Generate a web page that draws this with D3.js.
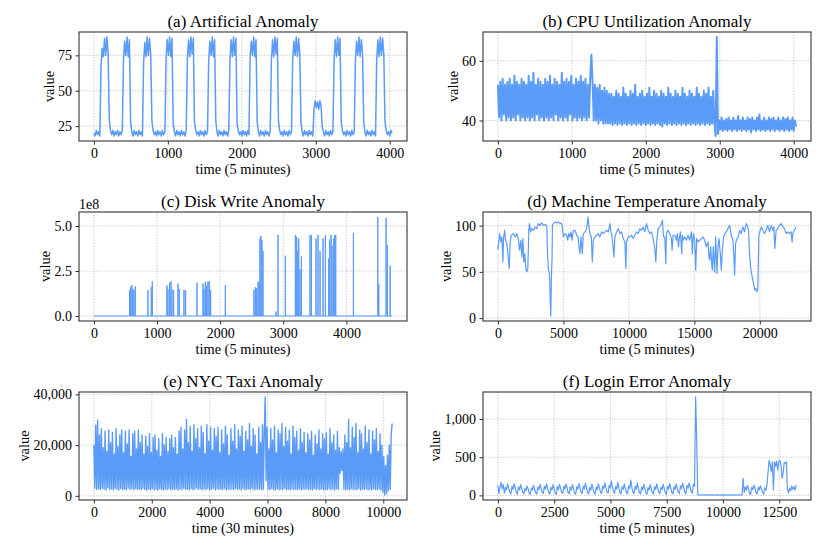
<!DOCTYPE html>
<html><head><meta charset="utf-8">
<script src="https://cdn.jsdelivr.net/npm/d3@7"></script>
<style>
body{margin:0;background:#fff}
text{font-family:"Liberation Serif","Times New Roman",serif;fill:#000}
</style>
</head><body>
<svg id="chart" width="830" height="554"></svg>
<script>
// ---------------- data ----------------
// (a) Artificial Anomaly, sampled every 16 steps
const artificialStep = 16;
const artificialValues = [20,18,22,19,21,18,
68,80,74,87,75,88,77,30,
22,19,22,18,21,19,22,18,21,19,22,
72,85,75,88,74,86,28,
21,18,22,19,21,18,22,19,21,18,
70,84,74,88,75,87,76,29,
22,19,21,18,22,19,21,18,22,19,21,
73,86,75,88,74,87,27,
21,18,22,19,21,18,22,19,21,18,22,
72,86,74,88,76,87,28,
22,19,21,18,22,19,21,18,22,19,21,
71,85,75,88,74,86,29,
21,18,22,19,21,18,22,19,21,18,22,
72,86,74,88,75,87,27,
22,19,21,18,22,19,21,18,22,19,
73,85,75,88,74,86,28,
21,18,22,19,21,18,22,19,21,18,22,
71,86,74,88,76,87,29,
22,19,21,18,22,19,21,18,22,19,21,
72,85,75,88,74,87,76,28,
21,18,22,19,21,18,22,19,21,18,
37,43,38,42,37,43,39,24,
21,18,22,19,21,18,22,19,21,
72,86,74,88,75,87,28,
22,19,21,18,22,19,21,18,22,19,21,
71,85,75,88,74,86,77,29,
21,18,22,19,21,18,22,19,21,18,
72,86,74,88,75,87,76,28,
22,19,21,18,22,20];

// (b) CPU Untilization Anomaly, sampled every 16 steps
const cpuStep = 16;
const cpuValues = [52,41,53,40,54,42,52,40,53,41,
54,40,52,41,55,40,53,42,52,40,
54,41,53,40,52,41,55,40,53,41,
56,40,52,42,54,40,53,41,52,40,
54,41,53,40,55,41,52,40,54,42,
53,40,52,41,56,40,53,41,54,40,
53,42,55,40,52,41,54,40,53,41,
55,40,53,41,54,40,52,41,54,62,
53,
40,52,40,51,39,52,40,50,39,51,39,50,39,49,
39,49,38.5,48,39,50,38.5,49,39,48,
38.5,51,39,49,38.5,48,39,50,38.5,49,
39,52,38.5,48,39,49,38.5,50,39,48,
38.5,49,39,51,38.5,48,39,50,38.5,49,
39,48,38.5,50,38,49,39,48,38.5,51,
39,49,38.5,48,39,50,38.5,49,39,48,
38.5,51,39,49,38.5,48,39,50,38.5,49,
39,48,38.5,51,39,49,38.5,48,39,50,
38.5,49,39,51,38.5,48,39,50,39,
34.8,68,
35.5,40,37,41,36.5,40,37,40.5,36.5,41,
37,40,36.5,41,37,40,36.5,41.5,37,40,
36.5,41,37,40,36.5,41,37,40.5,36,41,
37,40,36.5,41,37,42,36.5,40,37,41,
36.5,40,37,41,36.5,40.5,37,41,36.5,40,
37,41,36.5,40,37,41,36.5,40.5,37,41,
36.5,40,37,41,36.5,40,38];

// (c) Disk Write Anomaly: baseline 0 with write bursts
const diskEnd = 4724;
const diskSpikeTimes = [444,565,581,602,618,634,655,856,909,925,1157,1173,1199,1221,1236,1263,1332,1353,1427,1453,1633,
1728,1744,1765,1786,1807,1828,1849,2082,2462,2536,2557,2579,2600,2616,2631,2647,2663,2679,2885,2917,3033,
3192,3213,3229,3245,3266,3287,3424,3445,3519,3551,3583,3630,3667,3720,3736,3757,3773,3799,3815,3831,
4111,4380,4497,4513,4629,4650,4693];
const diskSpikeValues = [0.02e8,1.44e8,1.60e8,1.72e8,1.50e8,1.44e8,1.65e8,1.44e8,1.60e8,1.92e8,1.70e8,1.50e8,1.85e8,1.92e8,1.50e8,1.44e8,1.80e8,1.50e8,1.44e8,1.44e8,1.85e8,
1.80e8,1.50e8,1.90e8,1.70e8,1.92e8,1.92e8,1.44e8,1.72e8,0.03e8,1.44e8,1.60e8,1.55e8,1.90e8,1.92e8,4.30e8,4.45e8,4.20e8,3.60e8,0.25e8,4.50e8,3.35e8,
4.50e8,4.40e8,3.60e8,4.30e8,2.60e8,3.30e8,4.50e8,4.50e8,4.30e8,4.50e8,3.60e8,4.30e8,4.50e8,3.20e8,4.25e8,4.50e8,3.90e8,4.30e8,4.50e8,4.50e8,
4.60e8,0.03e8,5.50e8,1.80e8,5.45e8,3.95e8,2.80e8];

// (d) Machine Temperature Anomaly
const tempTime = [0,
51,127,228,305,381,431,508,584,685,761,
863,939,1015,1193,1320,1447,1574,1650,1751,1827,
1904,1980,2056,2132,2208,2284,2360,2411,2487,2589,
2716,2843,2969,3096,3223,3350,3477,3629,3731,3782,
3858,3934,3985,4035,4086,4137,4162,4238,4365,4492,
4619,4746,4822,4898,5000,5127,5254,5330,5406,5507,
5584,5660,5761,5888,6015,6117,6193,6269,6345,6447,
6523,6650,6776,6878,6954,7030,7132,7208,7284,7411,
7538,7665,7792,7919,8045,8172,8299,8426,8553,8629,
8705,8781,8858,8934,9061,9188,9314,9441,9568,9695,
9771,9822,9949,10076,10203,10330,10457,10583,10710,10837,
10964,11091,11218,11345,11472,11599,11726,11852,11979,12056,
12132,12233,12360,12487,12563,12640,12741,12817,12868,12995,
13121,13248,13299,13375,13502,13629,13705,13781,13832,13934,
14035,14086,14137,14264,14390,14517,14644,14771,14847,14923,
15025,15101,15177,15279,15406,15533,15659,15786,15913,16040,
16116,16167,16243,16319,16370,16446,16548,16624,16725,16802,
16878,16979,17055,17132,17233,17335,17436,17563,17690,17817,
17944,18020,18071,18147,18248,18350,18451,18578,18705,18832,
18959,19035,19136,19213,19289,19365,19466,19543,19619,19695,
19771,19847,19923,20025,20126,20228,20355,20482,20608,20735,
20862,20989,21065,21141,21243,21370,21497,21624,21751,21878,
22004,22131,22258,22385,22461,22512,22639,22766];
const tempValues = [74,
80.6,91.4,82.4,87.8,60.8,86,95,84.2,80.6,69.8,
53.6,82.4,89.6,91.4,87.8,91.4,84.2,73.4,84.2,66.2,
86,60.8,69.8,53.6,50,53.6,95,102.2,93.2,96.8,
95,98.6,96.8,102.2,100.4,102.9,100.4,101.4,99.3,73.4,
51.8,48.2,26.6,2.2,44.6,66.2,100.4,102.2,104,102.9,
104,102.2,102.9,100.4,87.8,91.4,89.6,84.2,91.4,87.8,
93.2,84.2,95,95,89.6,87.8,77,69.8,87.8,69.8,
91.4,93.2,96.8,109.4,98.6,91.4,87.8,60.8,84.2,87.8,
89.6,91.4,87.8,93.2,91.4,93.2,95,93.2,102.2,93.2,
89.6,78.8,66.2,87.8,93.2,96.8,91.4,93.2,86,82.4,
53.6,82.4,87.8,87.8,89.6,86,89.6,93.2,91.4,96.8,
95,98.6,93.2,102.2,95,91.4,93.2,86,75.2,60.8,
84.2,96.8,98.6,102.2,105.8,87.8,87.8,59,91.4,95,
91.4,86,73.4,89.6,89.6,84.2,91.4,77,84.2,93.2,
69.8,89.6,84.2,87.8,84.2,89.6,84.2,93.2,69.8,91.4,
84.2,51.8,86,82.4,84.2,86,87.8,84.2,77,82.4,
66.2,62.6,77,59,51.8,77,50,87.8,48.2,77,
86,69.8,51.8,73.4,87.8,91.4,93.2,96.8,100.4,89.6,
84.2,66.2,46.4,80.6,86,87.8,95,91.4,98.6,93.2,
102.2,100.4,95,69.8,55.4,48.2,41,35.6,30.2,32,
28.4,32,89.6,95,98.6,95,91.4,95,100.4,93.2,
100.4,95,98.6,75.2,95,96.8,100.4,102.2,98.6,96.8,
91.4,93.2,91.4,93.2,82.4,91.4,95,98.6];

// (e) NYC Taxi Anomaly, sampled every 32 steps
const taxiStep = 32;
const taxiValues = [20000,3000,27800,2500,29800,2800,24000,2400,26500,3000,19000,2600,25500,2300,17500,3200,26000,2500,21000,2800,
25000,2400,16500,3000,26500,2600,19500,2300,24000,2900,26000,2500,17000,2700,25500,2400,20500,3100,26000,2500,
15500,2800,24500,2300,25500,2900,18500,2500,26000,2700,21000,2400,24000,3000,16500,2500,23500,2200,19500,2800,
24500,2400,17000,2900,23000,2300,24000,2600,18000,2200,22500,2800,15500,2500,24500,2300,20000,2700,23000,2400,
17500,2900,22500,2300,24000,2600,19000,2500,23000,2800,16500,2200,25500,2700,27000,2400,18500,3000,26000,2500,
30100,2700,21000,2300,27500,2900,17500,2400,28000,2600,22500,3100,26500,2500,19000,2800,27500,2300,25000,2700,
16500,2500,28000,2900,21500,2400,27000,2600,18000,3000,26500,2300,23500,2800,27000,2500,17000,2700,26000,2400,
20500,2900,27500,2300,24000,2600,16000,2500,26500,2800,21500,2400,28000,3000,18500,2500,26000,2700,23500,2300,
27500,2900,17500,2400,25500,2600,22000,2800,28500,2500,19500,3000,26500,2300,24000,2700,16500,2500,27000,2800,
21000,2400,28000,2600,26000,39000,6000,27000,2700,18500,2400,26500,2900,22000,2500,27500,2300,17000,2800,26000,
2400,24500,2600,28500,2500,19500,3000,27000,2400,21500,2700,26000,2300,16500,2800,27500,2500,23000,2600,25500,
2400,18000,2900,26500,2300,21000,2700,25000,2500,17000,2800,24500,2400,22000,2600,25500,2300,16000,2900,24000,
2500,20500,2700,26000,2400,18500,2800,24500,2300,22500,2600,25000,2500,16500,2900,26500,2400,21000,2700,24000,
2300,18000,2800,25500,2500,19000,9000,17500,10000,18500,2600,24000,2400,21000,2700,30100,2300,19000,2800,27000,
2500,23000,2600,28500,2400,17000,2900,26000,2300,24500,2700,18500,2500,27500,2800,21000,2400,26000,2600,16500,
2300,25500,2900,22000,2500,26500,2400,17500,2700,24500,2300,20000,1500,15500,300,12000,800,16000,2000,20000,
2600,24000,28500];

// (f) Login Error Anomaly, sampled every 48 steps
const loginStep = 48;
const loginValues = [130,25,110,175,85,140,30,105,75,150,95,40,
20,120,80,155,100,35,15,110,70,140,90,40,
20,95,60,125,85,30,15,100,70,130,80,35,
20,110,75,145,95,40,25,120,80,150,90,35,
20,105,70,140,85,30,15,115,75,145,95,40,
25,120,85,150,100,35,20,110,70,140,85,30,
15,115,80,155,95,40,25,120,85,160,100,35,
20,105,70,145,90,30,15,110,75,150,95,40,
25,125,90,165,100,40,30,130,95,190,110,45,
25,120,85,170,95,35,20,115,80,150,90,35,
20,125,90,200,105,40,25,120,80,160,95,35,
20,110,75,145,90,30,15,105,70,140,85,35,
20,115,80,150,95,40,25,110,75,145,90,30,
15,120,85,155,100,35,20,115,80,150,95,40,
25,125,90,160,105,40,20,130,95,165,110,45,
30,150,120,1290,720,10,
6,4,7,5,6,4,7,5,6,4,7,5,6,4,7,5,6,4,7,5,6,4,7,5,6,4,7,5,6,4,7,5,6,4,7,5,6,4,7,5,6,
224,40,110,70,130,85,25,15,105,75,135,90,30,20,110,70,125,85,35,15,100,65,130,
300,460,400,310,440,73,440,380,450,330,440,460,400,224,290,430,420,440,73,
30,95,60,125,80,110,70,138];

// tick values
const ticksA = {x:[0,1000,2000,3000,4000], y:[25,50,75]};
const ticksB = {x:[0,1000,2000,3000,4000], y:[40,60]};
const ticksC = {x:[0,1000,2000,3000,4000], y:[0,2.5e8,5e8]};
const ticksD = {x:[0,5000,10000,15000,20000], y:[0,50,100]};
const ticksE = {x:[0,2000,4000,6000,8000,10000], y:[0,20000,40000]};
const ticksF = {x:[0,2500,5000,7500,10000,12500], y:[0,500,1000]};

// ---------------- build point lists ----------------
const diskPoints = [[0,0]];
diskSpikeTimes.forEach((t,i)=>{ diskPoints.push([t-2,0],[t,diskSpikeValues[i]],[t+2,0]); });
diskPoints.push([diskEnd,0]);

const panels = [
  {id:"a", title:"(a) Artificial Anomaly", bx:[79,407], by:[32,141], xLabel:"time (5 minutes)", sw:1.5,
   points: artificialValues.map((v,i)=>[i*artificialStep,v]), ticks:ticksA, yFmt:d3.format("d")},
  {id:"b", title:"(b) CPU Untilization Anomaly", bx:[483,811], by:[32,141], xLabel:"time (5 minutes)", sw:2.0,
   points: cpuValues.map((v,i)=>[i*cpuStep,v]), ticks:ticksB, yFmt:d3.format("d")},
  {id:"c", title:"(c) Disk Write Anomaly", bx:[79,407], by:[212,321], xLabel:"time (5 minutes)", sw:1.0,
   points: diskPoints, ticks:ticksC, yFmt:v=>(v/1e8).toFixed(1), offset:"1e8"},
  {id:"d", title:"(d) Machine Temperature Anomaly", bx:[483,811], by:[212,321], xLabel:"time (5 minutes)", sw:1.2,
   points: tempTime.map((t,i)=>[t,tempValues[i]]), ticks:ticksD, yFmt:d3.format("d")},
  {id:"e", title:"(e) NYC Taxi Anomaly", bx:[79,407], by:[392,500], xLabel:"time (30 minutes)", sw:1.4,
   points: taxiValues.map((v,i)=>[i*taxiStep,v]), ticks:ticksE, yFmt:d3.format(",")},
  {id:"f", title:"(f) Login Error Anomaly", bx:[483,811], by:[392,500], xLabel:"time (5 minutes)", sw:1.2,
   points: loginValues.map((v,i)=>[i*loginStep,v]), ticks:ticksF, yFmt:d3.format(",")}
];

const LINE = "#5b9bf8";
const FONT = "'Liberation Serif','Times New Roman',serif";
const svg = d3.select("#chart");
const defs = svg.append("defs");

function padded(ext){ const r = ext[1]-ext[0]; return [ext[0]-0.05*r, ext[1]+0.05*r]; }

panels.forEach(p=>{
  const [x0,x1] = p.bx, [y0,y1] = p.by;
  const x = d3.scaleLinear().domain(padded(d3.extent(p.points,d=>d[0]))).range([x0,x1]);
  const y = d3.scaleLinear().domain(padded(d3.extent(p.points,d=>d[1]))).range([y1,y0]);
  const g = svg.append("g");

  // grid
  g.selectAll("line.gx").data(p.ticks.x).join("line").attr("class","gx")
    .attr("x1",d=>x(d)).attr("x2",d=>x(d)).attr("y1",y0).attr("y2",y1)
    .attr("stroke","#b8b8b8").attr("stroke-width",0.8).attr("stroke-dasharray","1.2,1.6");
  g.selectAll("line.gy").data(p.ticks.y).join("line").attr("class","gy")
    .attr("y1",d=>y(d)).attr("y2",d=>y(d)).attr("x1",x0).attr("x2",x1)
    .attr("stroke","#b8b8b8").attr("stroke-width",0.8).attr("stroke-dasharray","1.2,1.6");

  // series line
  defs.append("clipPath").attr("id","clip"+p.id).append("rect")
    .attr("x",x0).attr("y",y0).attr("width",x1-x0).attr("height",y1-y0);
  g.append("path").datum(p.points)
    .attr("d", d3.line().x(d=>x(d[0])).y(d=>y(d[1])))
    .attr("fill","none").attr("stroke",LINE).attr("stroke-width",p.sw)
    .attr("stroke-linejoin","round")
    .attr("clip-path","url(#clip"+p.id+")");

  // frame
  g.append("rect").attr("x",x0).attr("y",y0).attr("width",x1-x0).attr("height",y1-y0)
    .attr("fill","none").attr("stroke","#333").attr("stroke-width",1.1);

  // axes
  const ax = g.append("g").attr("transform",`translate(0,${y1})`)
    .call(d3.axisBottom(x).tickValues(p.ticks.x).tickFormat(d3.format("d")).tickSize(3.5).tickPadding(3.5));
  const ay = g.append("g").attr("transform",`translate(${x0},0)`)
    .call(d3.axisLeft(y).tickValues(p.ticks.y).tickFormat(p.yFmt).tickSize(3.5).tickPadding(3.5));
  [ax,ay].forEach(a=>{
    a.select(".domain").remove();
    a.attr("font-family",FONT).attr("font-size",14);
    a.selectAll(".tick line").attr("stroke","#333").attr("stroke-width",1);
    a.selectAll(".tick text").attr("fill","#000");
  });

  // title
  g.append("text").attr("x",(x0+x1)/2).attr("y",y0-5.5).attr("text-anchor","middle")
    .attr("font-size",17).text(p.title);
  // x label
  g.append("text").attr("x",(x0+x1)/2).attr("y",y1+33).attr("text-anchor","middle")
    .attr("font-size",14.4).text(p.xLabel);
  // y label
  const bb = ay.node().getBBox();
  const lx = x0 + bb.x - 4.5;
  g.append("text").attr("transform",`translate(${lx},${(y0+y1)/2}) rotate(-90)`)
    .attr("text-anchor","middle").attr("font-size",14.4).text("value");
  // offset text
  if(p.offset){
    g.append("text").attr("x",x0).attr("y",y0-2.8).attr("font-size",14).text(p.offset);
  }
});
</script>
</body></html>
